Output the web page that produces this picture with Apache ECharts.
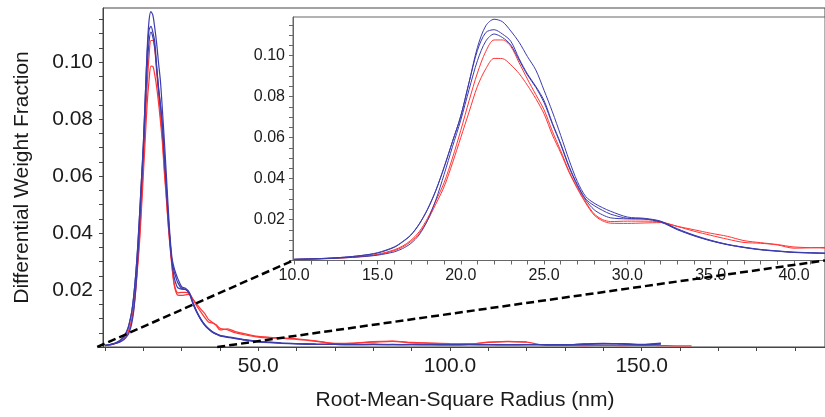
<!DOCTYPE html>
<html><head><meta charset="utf-8">
<script src="https://cdn.jsdelivr.net/npm/echarts@6/dist/echarts.min.js"></script>
<style>html,body{margin:0;padding:0;background:#fff}#c{width:825px;height:417px}</style>
</head><body><div id="c"></div>
<script>
// ---------- data ----------
const radius = [10, 11, 12, 13, 14, 15, 16,
  16.5, 17, 17.5, 18, 18.5, 19, 19.5, 20, 20.5, 21, 21.5, 22, 22.5, 23, 23.5, 24, 24.5, 25, 25.5, 26, 26.5, 27, 27.5, 28, 28.5, 29,
  30, 31, 32, 33, 34, 35, 36, 37, 38, 39, 40,
  42, 44, 46, 48, 50,
  53, 56, 60,
  65, 70, 75, 80, 85, 90, 95, 100, 105, 110, 115, 120, 125, 130, 135, 140, 145, 150, 155, 160,
  163];

const blueA = [.0006, .0008, .0011, .0016, .0024, .0038, .0066,
  .0092, .0125, .0178, .0250, .0342, .0455, .0580, .0705, .0870, .1040, .1145, .1177, .1165, .1120, .1065, .0995, .0930, .0830, .0725, .0610, .0490, .0385, .0312, .0280, .0258, .0240,
  .0212, .0206, .0192, .0155, .0124, .0099, .0079, .0065, .0054, .0047, .0041,
  .0036, .0031, .0027, .0023, .0020,
  .0017, .0014, .0012,
  .0010, .0009, .0009, .0010, .0008, .0009, .0008, .0008, .0009, .0008, .0008, .0008, .0008, .0008, .0011, .0013, .0011, .0009, .0014, null,
  null];

const blueB = [.0006, .0008, .0011, .0016, .0024, .0036, .0064,
  .0090, .0123, .0176, .0248, .0340, .0455, .0580, .0705, .0870, .1025, .1112, .1126, .1105, .1070, .0985, .0910, .0850, .0780, .0670, .0570, .0460, .0370, .0300, .0268, .0245, .0226,
  .0206, .0203, .0190, .0152, .0122, .0097, .0078, .0064, .0053, .0046, .0040,
  .0035, .0030, .0026, .0022, .0019,
  .0016, .0014, .0012,
  .0010, .0009, .0008, .0009, .0008, .0008, .0008, .0008, .0008, .0008, .0008, .0008, .0008, .0008, .0010, .0011, .0012, .0008, .0012, null,
  null];

const blueC = [.0005, .0007, .0009, .0013, .0018, .0026, .0042,
  .0058, .0083, .0125, .0195, .0295, .0420, .0555, .0685, .0835, .0975, .1070, .1105, .1088, .1052, .0978, .0905, .0845, .0770, .0665, .0565, .0455, .0365, .0295, .0248, .0223, .0208,
  .0203, .0202, .0187, .0150, .0120, .0096, .0077, .0063, .0052, .0045, .0039,
  .0034, .0029, .0025, .0021, .0018,
  .0015, .0013, .0011,
  .0009, .0009, .0008, .0008, .0009, .0008, .0008, .0007, .0008, .0008, .0007, .0008, .0008, .0008, .0009, .0012, .0010, .0008, .0010, null,
  null];

const redA = [.0005, .0007, .0010, .0014, .0020, .0030, .0052,
  .0070, .0098, .0140, .0205, .0290, .0380, .0500, .0635, .0780, .0915, .1020, .1076, .1076, .1045, .0965, .0885, .0810, .0735, .0630, .0535, .0435, .0355, .0285, .0228, .0200, .0190,
  .0192, .0192, .0188, .0167, .0150, .0133, .0118, .0097, .0087, .0078, .0066,
  .0060, .0050, .0044, .0039, .0035,
  .0032, .0030, .0027,
  .0020, .0013, .0014, .0017, .0020, .0014, .0013, .0011, .0010, .0017, .0019, .0017, .0006, .0006, .0005, .0006, .0005, .0006, .0005, .0004,
  .0004];

const redB = [.0005, .0007, .0010, .0013, .0019, .0028, .0048,
  .0065, .0092, .0132, .0195, .0275, .0360, .0475, .0600, .0725, .0850, .0935, .0986, .0985, .0955, .0912, .0855, .0790, .0715, .0612, .0525, .0430, .0350, .0280, .0222, .0194, .0182,
  .0181, .0183, .0185, .0166, .0143, .0123, .0104, .0088, .0084, .0076, .0060,
  .0064, .0054, .0048, .0042, .0037,
  .0034, .0032, .0029,
  .0022, .0012, .0013, .0019, .0021, .0016, .0014, .0012, .0011, .0016, .0020, .0018, null, null, null, null, null, null, null, null,
  null];

const mainXTicks = [10, 20, 30, 40, 50, 60, 70, 80, 90, 100, 110, 120, 130, 140, 150, 160, 170, 180, 190];
const mainXLabels = [50, 100, 150];
const yTicks = [0, 0.005, 0.01, 0.015, 0.02, 0.025, 0.03, 0.035, 0.04, 0.045, 0.05, 0.055, 0.06, 0.065, 0.07, 0.075, 0.08, 0.085, 0.09, 0.095, 0.1, 0.105, 0.11, 0.115];
const yLabels = [0.02, 0.04, 0.06, 0.08, 0.10];
const insetXTicks = [10, 11, 12, 13, 14, 15, 16, 17, 18, 19, 20, 21, 22, 23, 24, 25, 26, 27, 28, 29, 30, 31, 32, 33, 34, 35, 36, 37, 38, 39, 40, 41];
const insetXLabels = [10, 15, 20, 25, 30, 35, 40];
const mainXRange = [9.5, 197.8];
const insetXRange = [9.93, 41.86];
const yMaxMain = 0.119, yMaxInset = 0.1188;
const zoomFrom = [8, 39.3];   // radius on the main axis where the dashed guides start

// ---------- chart ----------
const FONT = '"Liberation Sans", Arial, Helvetica, sans-serif';
const RED = '#ff3535', BLUE = '#3c3cae';
const chart = echarts.init(document.getElementById('c'), null, {renderer: 'canvas'});
const pairs = v => radius.map((x, i) => [x, v[i]]).filter(p => p[1] != null);
const curves = [
  {vals: redB, color: RED}, {vals: redA, color: RED},
  {vals: blueC, color: BLUE}, {vals: blueB, color: BLUE}, {vals: blueA, color: BLUE}
];
const series = [];
curves.forEach(c => {
  series.push({type: 'line', xAxisIndex: 0, yAxisIndex: 0, data: pairs(c.vals), smooth: 0.3,
    showSymbol: false, silent: true, lineStyle: {color: c.color, width: 1.2}});
  series.push({type: 'line', xAxisIndex: 1, yAxisIndex: 1, data: pairs(c.vals), smooth: 0.3,
    showSymbol: false, silent: true, lineStyle: {color: c.color, width: 1}});
});

function xAxisCfg(grid, range, ticks, labels, fs, margin, col) {
  return {type: 'value', gridIndex: grid, min: range[0], max: range[1],
    axisLine: {show: true, lineStyle: {color: col, width: 1}},
    axisTick: {show: true, inside: false, length: 4, customValues: ticks, lineStyle: {color: col}},
    axisLabel: {customValues: labels, formatter: v => v.toFixed(1), fontSize: fs, color: '#1a1a1a', fontFamily: FONT, margin: margin},
    splitLine: {show: false}};
}
function yAxisCfg(grid, max, fs, margin, col) {
  return {type: 'value', gridIndex: grid, min: 0, max: max,
    axisLine: {show: true, lineStyle: {color: col, width: 1}},
    axisTick: {show: true, inside: false, length: 4, customValues: yTicks, lineStyle: {color: col}},
    axisLabel: {customValues: yLabels, formatter: v => v.toFixed(2), fontSize: fs, color: '#1a1a1a', fontFamily: FONT, margin: margin},
    splitLine: {show: false}};
}
const yMain = yAxisCfg(0, yMaxMain, 21, 10, '#444');
yMain.name = 'Differential Weight Fraction';
yMain.nameLocation = 'middle';
yMain.nameRotate = 90;
yMain.nameGap = 70;
yMain.nameTextStyle = {fontSize: 21, color: '#1a1a1a', fontFamily: FONT};

chart.setOption({
  animation: false,
  backgroundColor: '#fff',
  grid: [
    {left: 103, top: 8, width: 760, height: 339, show: true, borderColor: '#444', borderWidth: 1, backgroundColor: 'transparent'},
    {left: 293, top: 17, width: 562, height: 243.5, show: true, borderColor: '#666', borderWidth: 1, backgroundColor: '#fff'}
  ],
  xAxis: [
    xAxisCfg(0, mainXRange, mainXTicks, mainXLabels, 21, 9, '#444'),
    xAxisCfg(1, insetXRange, insetXTicks, insetXLabels, 16, 7, '#666')
  ],
  yAxis: [yMain, yAxisCfg(1, yMaxInset, 16, 8, '#666')],
  series: series
});

// dashed zoom guides, positioned through the axes' own scales
const a1 = chart.convertToPixel({gridIndex: 0}, [zoomFrom[0], 0]);
const a2 = chart.convertToPixel({gridIndex: 0}, [zoomFrom[1], 0]);
const b1 = chart.convertToPixel({gridIndex: 1}, [insetXRange[0], 0]);
const b2 = chart.convertToPixel({gridIndex: 1}, [insetXRange[1], 0]);
const dash = {stroke: '#000', lineWidth: 2.5, lineDash: [8, 4]};
chart.setOption({
  graphic: [
    {type: 'line', z: 100, shape: {x1: a1[0], y1: a1[1], x2: b1[0], y2: b1[1]}, style: dash, silent: true},
    {type: 'line', z: 100, shape: {x1: a2[0], y1: a2[1], x2: b2[0], y2: b2[1]}, style: dash, silent: true},
    {type: 'text', z: 100, x: 465, y: 400, style: {text: 'Root-Mean-Square Radius (nm)', fontSize: 21, fontFamily: FONT, fill: '#1a1a1a', textAlign: 'center', textVerticalAlign: 'middle'}, silent: true}
  ]
});
</script>
</body></html>
